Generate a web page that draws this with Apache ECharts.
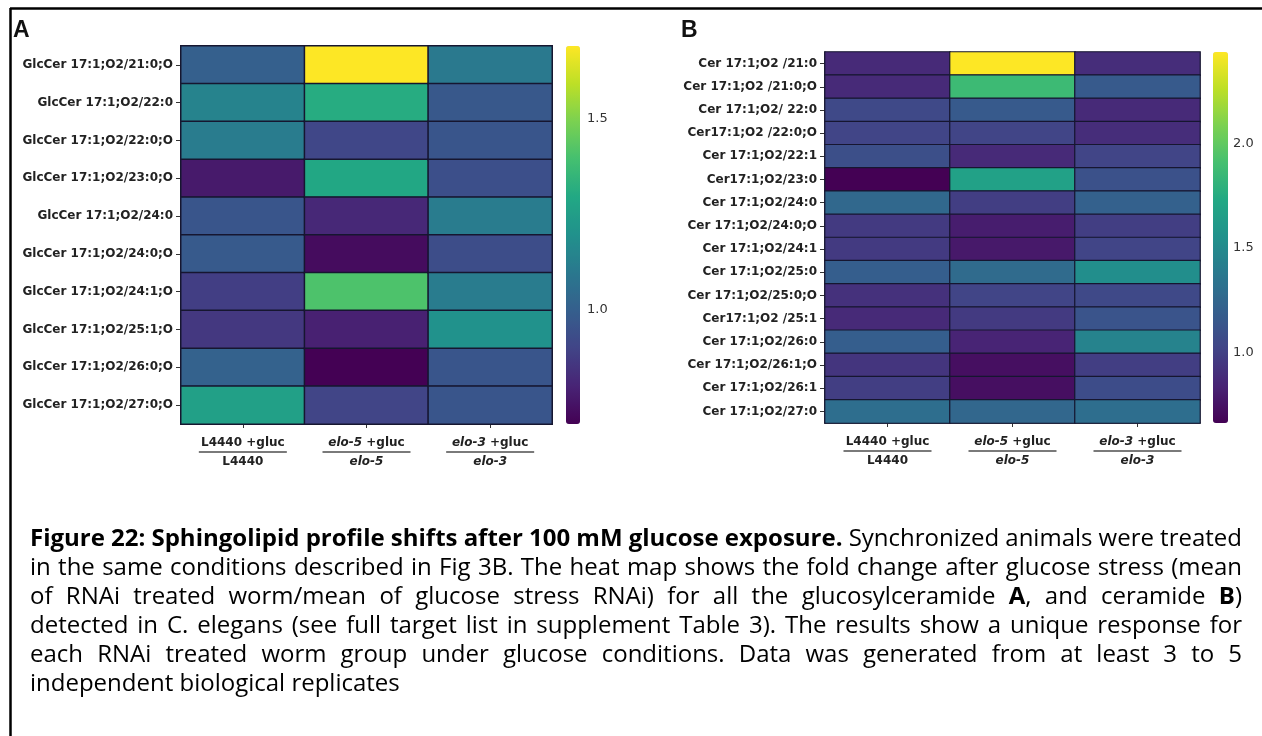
<!DOCTYPE html>
<html><head><meta charset="utf-8">
<script src="https://cdn.jsdelivr.net/npm/echarts@6/dist/echarts.min.js"></script>
<style>html,body{margin:0;padding:0;background:#fff}#c{width:1262px;height:736px}</style>
</head><body><div id="c"></div><script>
// ---------- data ----------
const columns = ['L4440 +gluc / L4440', 'elo-5 +gluc / elo-5', 'elo-3 +gluc / elo-3'];

const rowsA = ['GlcCer 17:1;O2/21:0;O', 'GlcCer 17:1;O2/22:0', 'GlcCer 17:1;O2/22:0;O', 'GlcCer 17:1;O2/23:0;O',
  'GlcCer 17:1;O2/24:0', 'GlcCer 17:1;O2/24:0;O', 'GlcCer 17:1;O2/24:1;O', 'GlcCer 17:1;O2/25:1;O',
  'GlcCer 17:1;O2/26:0;O', 'GlcCer 17:1;O2/27:0;O'];
const glcL4440 = [1.00, 1.14, 1.11, 0.77, 0.96, 0.98, 0.88, 0.86, 1.01, 1.26];
const glcElo5  = [1.69, 1.31, 0.91, 1.29, 0.81, 0.73, 1.41, 0.79, 0.70, 0.90];
const glcElo3  = [1.10, 0.97, 0.96, 0.94, 1.11, 0.93, 1.11, 1.20, 0.96, 0.96];

const rowsB = ['Cer 17:1;O2 /21:0', 'Cer 17:1;O2 /21:0;O', 'Cer 17:1;O2/ 22:0', 'Cer17:1;O2 /22:0;O',
  'Cer 17:1;O2/22:1', 'Cer17:1;O2/23:0', 'Cer 17:1;O2/24:0', 'Cer 17:1;O2/24:0;O', 'Cer 17:1;O2/24:1',
  'Cer 17:1;O2/25:0', 'Cer 17:1;O2/25:0;O', 'Cer17:1;O2 /25:1', 'Cer 17:1;O2/26:0', 'Cer 17:1;O2/26:1;O',
  'Cer 17:1;O2/26:1', 'Cer 17:1;O2/27:0'];
const cerL4440 = [0.87, 0.87, 1.05, 1.02, 1.09, 0.66, 1.26, 0.96, 0.96, 1.19, 0.91, 0.87, 1.19, 0.93, 0.98, 1.30];
const cerElo5  = [2.44, 1.87, 1.16, 1.02, 0.87, 1.67, 0.98, 0.80, 0.78, 1.28, 1.02, 0.96, 0.84, 0.73, 0.73, 1.25];
const cerElo3  = [0.89, 1.16, 0.87, 0.89, 1.02, 1.10, 1.21, 0.98, 1.02, 1.53, 1.05, 1.12, 1.45, 0.98, 1.07, 1.30];

const scaleA = [0.70, 1.69];
const scaleB = [0.66, 2.44];
const ticksA = [1.0, 1.5];
const ticksB = [1.0, 1.5, 2.0];

const captionLines = [
  '**Figure 22: Sphingolipid profile shifts after 100 mM glucose exposure.** Synchronized animals were treated',
  'in the same conditions described in Fig 3B. The heat map shows the fold change after glucose stress (mean',
  'of RNAi treated worm/mean of glucose stress RNAi) for all the glucosylceramide **A**, and ceramide **B**)',
  'detected in C. elegans (see full target list in supplement Table 3). The results show a unique response for',
  'each RNAi treated worm group under glucose conditions. Data was generated from at least 3 to 5',
  'independent biological replicates'
];

// ---------- helpers ----------
const viridis = ['#440154','#482475','#414487','#355f8d','#2a788e','#21918c','#22a884','#44bf70','#7ad151','#bddf26','#fde725'];
function toCells(cols) {
  const out = [];
  cols.forEach((arr, ci) => arr.forEach((v, ri) => out.push([ci, ri, v])));
  return out;
}
const LBL = '#222';
const FONT = 'DejaVu Sans';

function xLabel(value) {
  const p = value.split(' / ');
  const top = p[0], bot = p[1];
  if (top.indexOf('elo') === 0) {
    const gene = top.split(' ')[0];
    return '{gi|' + gene + '}{g|' + top.slice(gene.length) + '}\n{ln| }\n{gi|' + bot + '}';
  }
  return '{g|' + top + '}\n{ln| }\n{g|' + bot + '}';
}
const xRich = {
  g: {fontFamily: FONT, fontWeight: 'bold', fontSize: 12, color: LBL, lineHeight: 15},
  gi: {fontFamily: FONT, fontWeight: 'bold', fontStyle: 'italic', fontSize: 12, color: LBL, lineHeight: 15},
  ln: {width: 88, height: 2, backgroundColor: '#7a7a7a', fontSize: 2, lineHeight: 4}
};

function heatXAxis(gi) {
  return {
    type: 'category', gridIndex: gi, data: columns, position: 'bottom',
    axisLine: {show: true, lineStyle: {color: '#1a1a2e', width: 1.5}},
    axisTick: {show: true, alignWithLabel: true, length: 4, lineStyle: {color: '#333'}},
    axisLabel: {interval: 0, margin: 11, formatter: xLabel, rich: xRich},
    splitLine: {show: false}
  };
}
function heatYAxis(gi, rows) {
  return {
    type: 'category', gridIndex: gi, data: rows, inverse: true,
    axisLine: {show: true, lineStyle: {color: '#1a1a2e', width: 1.5}},
    axisTick: {show: true, alignWithLabel: true, length: 5, lineStyle: {color: '#333'}},
    axisLabel: {interval: 0, margin: 8, fontFamily: FONT, fontWeight: 'bold', fontSize: 12, color: LBL},
    splitLine: {show: false}
  };
}
function barYAxis(gi, sc, ticks, margin) {
  return {
    type: 'value', gridIndex: gi, min: sc[0], max: sc[1], position: 'right',
    axisLine: {show: false},
    axisTick: {show: true, customValues: ticks, length: 3, lineStyle: {color: '#333'}},
    axisLabel: {customValues: ticks, margin: margin, fontFamily: FONT, fontSize: 13, color: '#333',
      formatter: v => Number(v).toFixed(1)},
    splitLine: {show: false}
  };
}

// ---------- caption (justified rich text) ----------
const CAP_FONT = 'Open Sans', CAP_SIZE = 24, CAP_LEFT = 30, CAP_RIGHT = 1242;
const CAP_TOP = 527, CAP_PITCH = 29;
const mctx = document.createElement('canvas').getContext('2d');
function measure(t, bold) {
  mctx.font = (bold ? 'bold ' : 'normal ') + CAP_SIZE + 'px "' + CAP_FONT + '"';
  return mctx.measureText(t).width;
}
const captionGraphics = [];
captionLines.forEach((line, li) => {
  let bold = false;
  const words = line.split(' ').map(w => {
    const segs = [];
    w.split('**').forEach((part, i) => {
      if (i > 0) bold = !bold;
      if (part) segs.push({t: part, b: bold});
    });
    return segs;
  });
  const widths = words.map(ws => ws.reduce((s, g) => s + measure(g.t, g.b), 0));
  const total = widths.reduce((a, b) => a + b, 0);
  const last = li === captionLines.length - 1;
  const gap = last ? measure(' ', false) : (CAP_RIGHT - CAP_LEFT - total) / (words.length - 1);
  const gname = 'g' + li;
  const rich = {
    b: {fontFamily: CAP_FONT, fontSize: CAP_SIZE, fontWeight: 'bold', color: '#000'},
    r: {fontFamily: CAP_FONT, fontSize: CAP_SIZE, color: '#000'}
  };
  rich[gname] = {fontFamily: CAP_FONT, fontSize: CAP_SIZE, width: gap};
  const txt = words.map(ws => ws.map(g => '{' + (g.b ? 'b' : 'r') + '|' + g.t + '}').join('')).join('{' + gname + '| }');
  captionGraphics.push({
    type: 'text', left: CAP_LEFT, top: CAP_TOP + li * CAP_PITCH,
    style: {text: txt, rich: rich, font: CAP_SIZE + 'px "' + CAP_FONT + '"', fill: '#000'}
  });
});

// ---------- chart ----------
const chart = echarts.init(document.getElementById('c'));
const option = {
  animation: false,
  backgroundColor: '#fff',
  grid: [
    {left: 181, top: 46, width: 371, height: 378},
    {left: 825, top: 52, width: 375, height: 371},
    {left: 566, top: 46, width: 14, height: 378},
    {left: 1213, top: 52, width: 15, height: 371}
  ],
  xAxis: [
    heatXAxis(0), heatXAxis(1),
    {type: 'value', gridIndex: 2, show: false},
    {type: 'value', gridIndex: 3, show: false}
  ],
  yAxis: [
    heatYAxis(0, rowsA), heatYAxis(1, rowsB),
    barYAxis(2, scaleA, ticksA, 7),
    barYAxis(3, scaleB, ticksB, 5)
  ],
  visualMap: [
    {type: 'continuous', seriesIndex: 0, dimension: 2, min: scaleA[0], max: scaleA[1],
     calculable: false, orient: 'vertical', left: 566, top: 46, itemWidth: 14, itemHeight: 378,
     padding: 0, text: null, inRange: {color: viridis}, hoverLink: false},
    {type: 'continuous', seriesIndex: 1, dimension: 2, min: scaleB[0], max: scaleB[1],
     calculable: false, orient: 'vertical', left: 1213, top: 52, itemWidth: 15, itemHeight: 371,
     padding: 0, text: null, inRange: {color: viridis}, hoverLink: false}
  ],
  series: [
    {type: 'heatmap', xAxisIndex: 0, yAxisIndex: 0, data: toCells([glcL4440, glcElo5, glcElo3]),
     itemStyle: {borderColor: '#161630', borderWidth: 1.5}, emphasis: {disabled: true}},
    {type: 'heatmap', xAxisIndex: 1, yAxisIndex: 1, data: toCells([cerL4440, cerElo5, cerElo3]),
     itemStyle: {borderColor: '#161630', borderWidth: 1.2}, emphasis: {disabled: true}}
  ],
  graphic: [
    {type: 'line', shape: {x1: 10, y1: 8.5, x2: 1262, y2: 8.5}, style: {stroke: '#000', lineWidth: 2.5}},
    {type: 'line', shape: {x1: 10.5, y1: 8, x2: 10.5, y2: 736}, style: {stroke: '#000', lineWidth: 2.5}},
    {type: 'text', left: 13, top: 19, style: {text: 'A', font: 'bold 23px "Liberation Sans"', fill: '#111'}},
    {type: 'text', left: 681, top: 19, style: {text: 'B', font: 'bold 23px "Liberation Sans"', fill: '#111'}}
  ].concat(captionGraphics)
};
chart.setOption(option);
</script></body></html>
